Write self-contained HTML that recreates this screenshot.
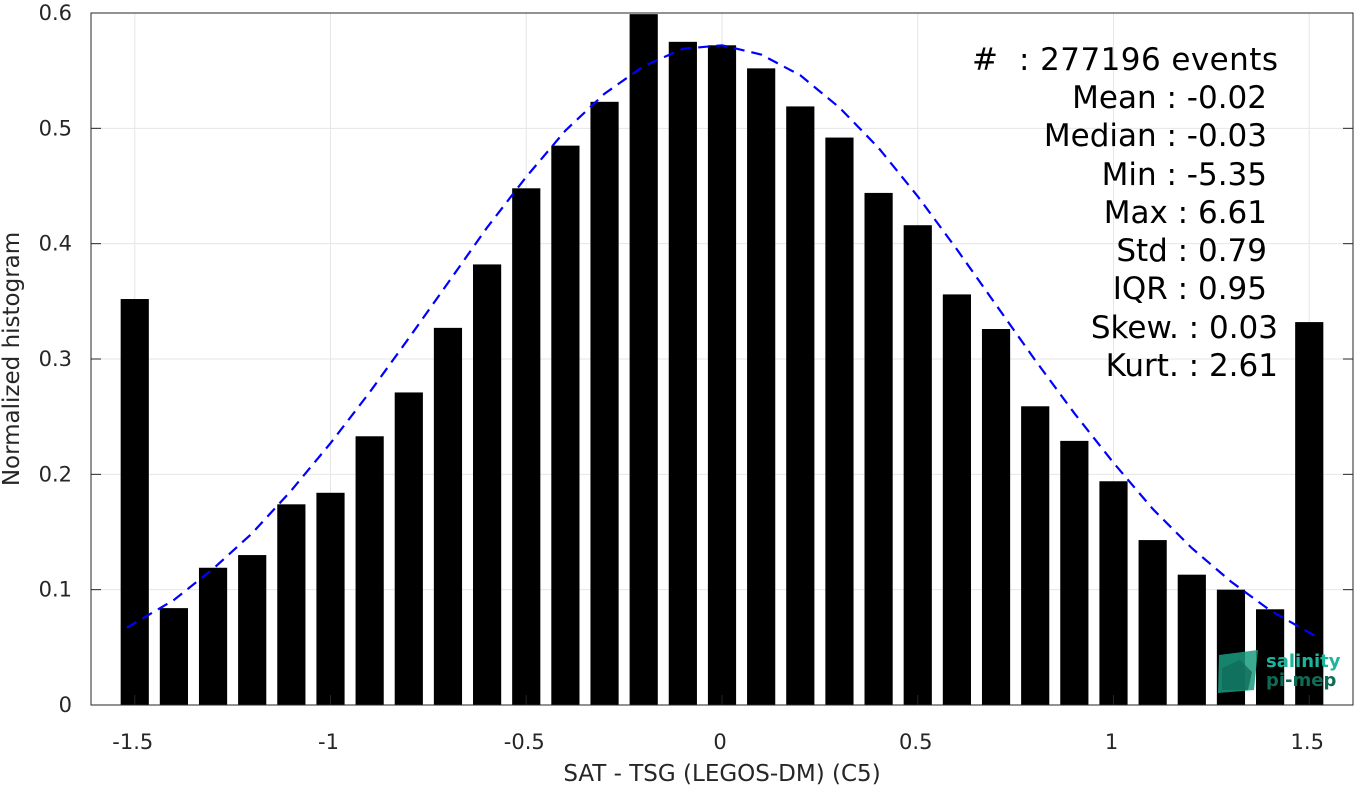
<!DOCTYPE html>
<html><head><meta charset="utf-8"><style>
body{margin:0;background:#fff;}
svg{display:block;font-family:"DejaVu Sans","Liberation Sans",sans-serif;}
</style></head><body>
<svg id="chart" width="1367" height="785" viewBox="0 0 1367 785">
<g id="grid"></g>
<g id="bars"></g>
<path id="fit" fill="none" stroke="#0000ff" stroke-width="2.2" stroke-dasharray="11,7"></path>
<rect x="91" y="13" width="1262" height="692" fill="none" stroke="#262626" stroke-width="1"></rect>
<g id="ticks" font-size="21" fill="#262626"></g>
<text x="722" y="781" text-anchor="middle" font-size="23" fill="#262626">SAT - TSG (LEGOS-DM) (C5)</text>
<text transform="translate(19,359) rotate(-90)" text-anchor="middle" font-size="23" fill="#262626">Normalized histogram</text>
<g font-size="31" fill="#000" text-anchor="end">
<text x="1278" y="70" textLength="306" xml:space="preserve">#  : 277196 events</text>
<text x="1267" y="108">Mean : -0.02</text>
<text x="1267" y="146">Median : -0.03</text>
<text x="1267" y="185">Min : -5.35</text>
<text x="1267" y="223">Max : 6.61</text>
<text x="1267" y="261">Std : 0.79</text>
<text x="1267" y="299">IQR : 0.95</text>
<text x="1278" y="338">Skew. : 0.03</text>
<text x="1278" y="376">Kurt. : 2.61</text>
</g>
<g>
<polygon points="1219,655 1258,650 1254,690 1218,693" fill="#1a9a80" opacity="0.85"></polygon>
<polygon points="1222,668 1240,660 1252,672 1248,690 1222,690" fill="#0f6e5a" opacity="0.8"></polygon>
<text x="1266" y="667" font-size="18" font-weight="bold" fill="#1ab59a">salinity</text>
<text x="1266" y="686" font-size="18" font-weight="bold" fill="#0e6b55">pi-mep</text>
</g>
</svg>
<script>
const binCenters=[-1.5,-1.4,-1.3,-1.2,-1.1,-1.0,-0.9,-0.8,-0.7,-0.6,-0.5,-0.4,-0.3,-0.2,-0.1,0,0.1,0.2,0.3,0.4,0.5,0.6,0.7,0.8,0.9,1.0,1.1,1.2,1.3,1.4,1.5];
const binValues=[0.352,0.084,0.119,0.130,0.174,0.184,0.233,0.271,0.327,0.382,0.448,0.485,0.523,0.599,0.575,0.572,0.552,0.519,0.492,0.444,0.416,0.356,0.326,0.259,0.229,0.194,0.143,0.113,0.100,0.083,0.332];
const fitX=[-1.52,-1.4,-1.3,-1.2,-1.1,-1.0,-0.9,-0.8,-0.7,-0.6,-0.5,-0.4,-0.3,-0.2,-0.1,0,0.1,0.2,0.3,0.4,0.5,0.6,0.7,0.8,0.9,1.0,1.1,1.2,1.3,1.4,1.52];
const fitY=[0.067,0.091,0.118,0.149,0.186,0.227,0.271,0.318,0.366,0.414,0.458,0.498,0.530,0.554,0.569,0.572,0.564,0.546,0.518,0.483,0.441,0.395,0.347,0.299,0.253,0.210,0.170,0.136,0.107,0.082,0.059];
const xTicks=[-1.5,-1,-0.5,0,0.5,1,1.5];
const xTickLabels=["-1.5","-1","-0.5","0","0.5","1","1.5"];
const yTicks=[0,0.1,0.2,0.3,0.4,0.5,0.6];
const yTickLabels=["0","0.1","0.2","0.3","0.4","0.5","0.6"];
const NS="http://www.w3.org/2000/svg";
const X0=91,X1=1353,Y0=705,Y1=13;
function xs(v){return 722+v*391.5;}
function ys(v){return Y0-(v/0.6)*(Y0-Y1);}
const grid=document.getElementById('grid'),ticks=document.getElementById('ticks'),bars=document.getElementById('bars');
function mk(tag,attrs,parent){const e=document.createElementNS(NS,tag);for(const k in attrs)e.setAttribute(k,attrs[k]);parent.appendChild(e);return e;}
xTicks.forEach((t,i)=>{
 const g=mk('line',{x1:xs(t),x2:xs(t),y1:Y1,y2:Y0,stroke:'#e6e6e6','stroke-width':1},grid);
 
 
 const tk=mk('line',{x1:xs(t),x2:xs(t),y1:Y0,y2:Y0-10,stroke:'#262626'},ticks);
 
 
 const tx=mk('text',{x:xs(t)-2,y:749,'text-anchor':'middle'},ticks);
 tx.textContent=xTickLabels[i];
 
 
});
yTicks.forEach((t,i)=>{
 const g=mk('line',{x1:X0,x2:X1,y1:ys(t),y2:ys(t),stroke:'#e6e6e6','stroke-width':1},grid);
 
 
 const tk=mk('line',{x1:X0,x2:X0+10,y1:ys(t),y2:ys(t),stroke:'#262626'},ticks);
 
 
 const tk2=mk('line',{x1:X1,x2:X1-10,y1:ys(t),y2:ys(t),stroke:'#262626'},ticks);
 
 
 const tx=mk('text',{x:72,y:ys(t)+7,'text-anchor':'end'},ticks);
 tx.textContent=yTickLabels[i];
 
 
});
const bw=0.072*391.5;
binCenters.forEach((c,i)=>{
 const r=mk('rect',{x:xs(c)-bw/2,y:ys(binValues[i]),width:bw,height:Y0-ys(binValues[i]),fill:'#000'},bars);
 
 
});
let d='';
fitX.forEach((x,i)=>{d+=(i?'L':'M')+xs(x).toFixed(1)+','+ys(fitY[i]).toFixed(1);});
document.getElementById('fit').setAttribute('d',d);
</script>
</body></html>
